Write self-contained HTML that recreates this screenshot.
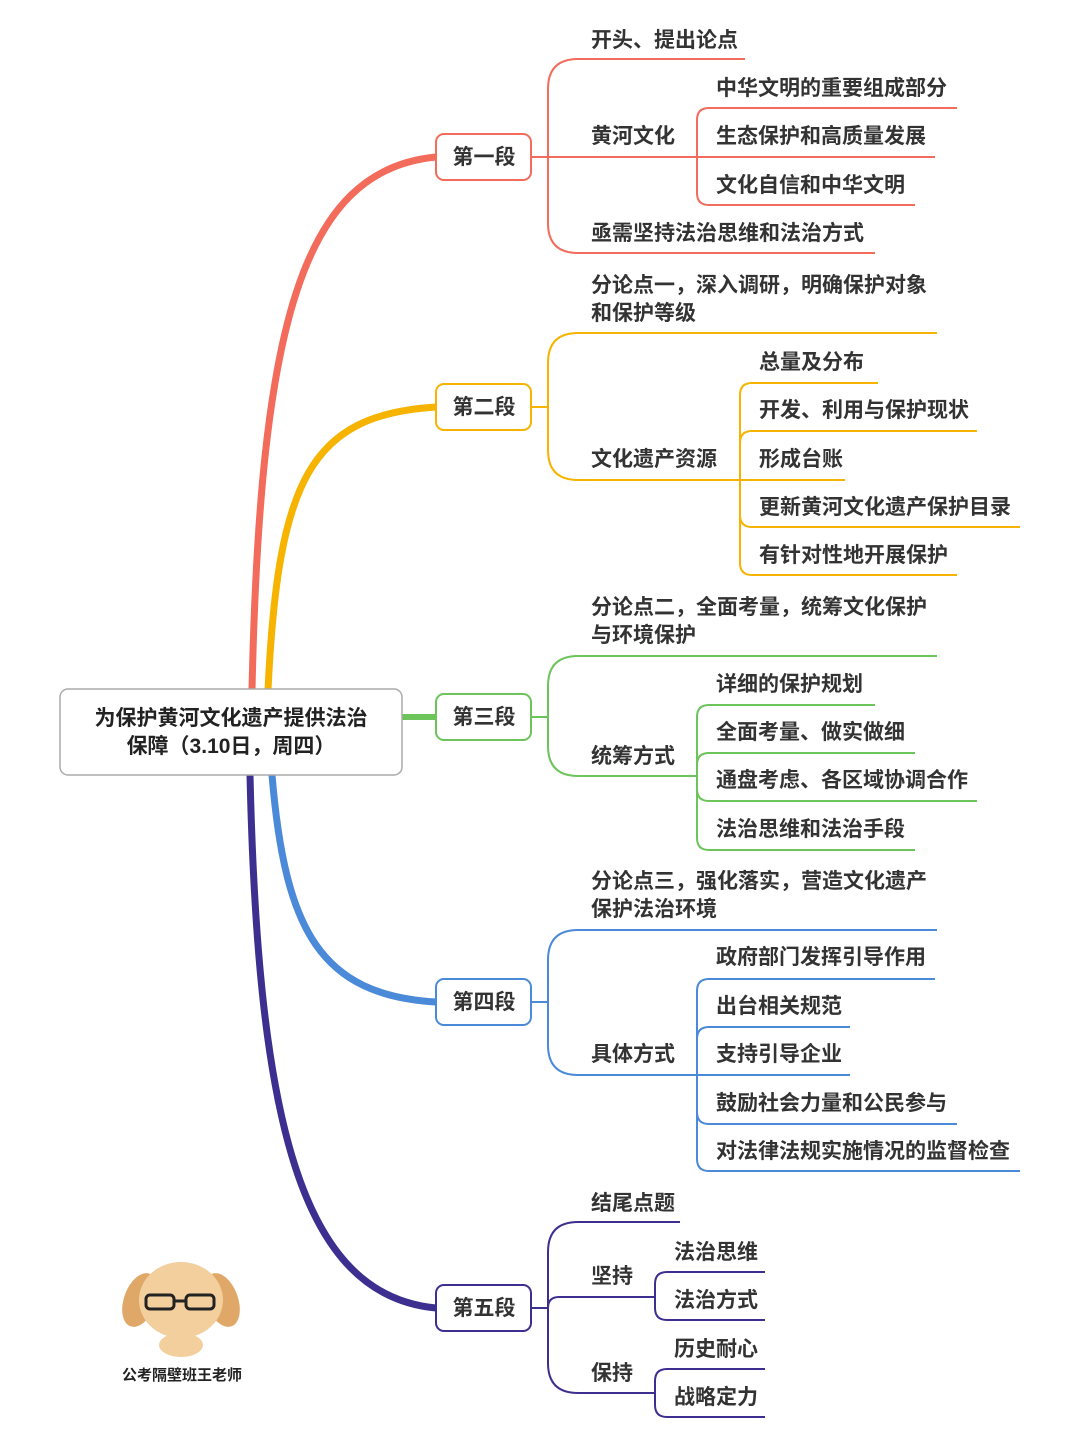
<!DOCTYPE html>
<html><head><meta charset="utf-8"><style>
html,body{margin:0;padding:0;background:#fff}
svg{display:block}
text{font-family:"Liberation Sans","Noto Sans CJK SC",sans-serif;font-weight:bold;font-size:21px;fill:#333}
</style></head><body>
<svg width="1080" height="1439" viewBox="0 0 1080 1439" xmlns="http://www.w3.org/2000/svg">
<g fill="none" stroke-linecap="round">
<path d="M252 690 C260 330 300 170 436 157" stroke="#f26b5b" stroke-width="7"/>
<path d="M268 690 C278 480 310 415 436 407" stroke="#f6b400" stroke-width="7"/>
<path d="M402 717 C418 717 420 717 436 717" stroke="#6cc45a" stroke-width="6"/>
<path d="M272 775 C285 930 320 995 436 1002" stroke="#4a8ad8" stroke-width="7"/>
<path d="M250 775 C258 1120 300 1295 436 1308" stroke="#3d2f8f" stroke-width="7"/>
</g>
<g fill="none" stroke-width="2">
<g stroke="#f26b5b">
<path d="M548 157 V89 Q548 59 578 59 H745"/>
<path d="M531 157 H697"/>
<path d="M548 157 V223 Q548 253 578 253 H875"/>
<path d="M697 157 V120 Q697 108 709 108 H957"/>
<path d="M697 157 H935"/>
<path d="M697 157 V193 Q697 205 709 205 H915"/>
</g>
<g stroke="#f6b400">
<path d="M548 407 V363 Q548 333 578 333 H937"/>
<path d="M548 407 V450 Q548 480 578 480 H740"/>
<path d="M531 407 H548"/>
<path d="M740 480 V395 Q740 383 752 383 H878"/>
<path d="M740 480 V443 Q740 431 752 431 H977"/>
<path d="M740 480 H845"/>
<path d="M740 480 V515 Q740 527 752 527 H1020"/>
<path d="M740 480 V563 Q740 575 752 575 H957"/>
</g>
<g stroke="#6cc45a">
<path d="M548 717 V686 Q548 656 578 656 H937"/>
<path d="M548 717 V746 Q548 776 578 776 H697"/>
<path d="M531 717 H548"/>
<path d="M697 776 V717 Q697 705 709 705 H875"/>
<path d="M697 776 V765 Q697 753 709 753 H915"/>
<path d="M697 776 V789 Q697 801 709 801 H977"/>
<path d="M697 776 V838 Q697 850 709 850 H915"/>
</g>
<g stroke="#4a8ad8">
<path d="M548 1002 V960 Q548 930 578 930 H937"/>
<path d="M548 1002 V1045 Q548 1075 578 1075 H697"/>
<path d="M531 1002 H548"/>
<path d="M697 1075 V991 Q697 979 709 979 H935"/>
<path d="M697 1075 V1039 Q697 1027 709 1027 H850"/>
<path d="M697 1075 H850"/>
<path d="M697 1075 V1112 Q697 1124 709 1124 H957"/>
<path d="M697 1075 V1159 Q697 1171 709 1171 H1020"/>
</g>
<g stroke="#3d2f8f">
<path d="M548 1308 V1252 Q548 1222 578 1222 H680"/>
<path d="M548 1308 Q548 1297 559 1297 H655"/>
<path d="M548 1308 V1363 Q548 1393 578 1393 H655"/>
<path d="M531 1308 H548"/>
<path d="M655 1297 V1284 Q655 1272 667 1272 H765"/>
<path d="M655 1297 V1308 Q655 1320 667 1320 H765"/>
<path d="M655 1393 V1381 Q655 1369 667 1369 H765"/>
<path d="M655 1393 V1405 Q655 1417 667 1417 H765"/>
</g>
</g>
<rect x="60" y="689" width="342" height="86" rx="8" fill="#fff" stroke="#aaa" stroke-width="1.5"/>
<text x="231" y="725" text-anchor="middle" style="fill:#222">为保护黄河文化遗产提供法治</text>
<text x="231" y="753" text-anchor="middle" style="fill:#222">保障（3.10日，周四）</text>
<g fill="#fff" stroke-width="2">
<rect x="436" y="134" width="95" height="46" rx="8" stroke="#f26b5b"/>
<rect x="436" y="384" width="95" height="46" rx="8" stroke="#f6b400"/>
<rect x="436" y="694" width="95" height="46" rx="8" stroke="#6cc45a"/>
<rect x="436" y="979" width="95" height="46" rx="8" stroke="#4a8ad8"/>
<rect x="436" y="1285" width="95" height="46" rx="8" stroke="#3d2f8f"/>
</g>
<g text-anchor="middle">
<text x="484" y="164">第一段</text>
<text x="484" y="414">第二段</text>
<text x="484" y="724">第三段</text>
<text x="484" y="1009">第四段</text>
<text x="484" y="1315">第五段</text>
</g>
<text x="591" y="47">开头、提出论点</text>
<text x="591" y="143">黄河文化</text>
<text x="716" y="95">中华文明的重要组成部分</text>
<text x="716" y="143">生态保护和高质量发展</text>
<text x="716" y="192">文化自信和中华文明</text>
<text x="591" y="240">亟需坚持法治思维和法治方式</text>

<text x="591" y="292">分论点一，深入调研，明确保护对象</text>
<text x="591" y="320">和保护等级</text>
<text x="591" y="466">文化遗产资源</text>
<text x="759" y="369">总量及分布</text>
<text x="759" y="417">开发、利用与保护现状</text>
<text x="759" y="466">形成台账</text>
<text x="759" y="514">更新黄河文化遗产保护目录</text>
<text x="759" y="562">有针对性地开展保护</text>

<text x="591" y="614">分论点二，全面考量，统筹文化保护</text>
<text x="591" y="642">与环境保护</text>
<text x="591" y="763">统筹方式</text>
<text x="716" y="691">详细的保护规划</text>
<text x="716" y="739">全面考量、做实做细</text>
<text x="716" y="787">通盘考虑、各区域协调合作</text>
<text x="716" y="836">法治思维和法治手段</text>

<text x="591" y="888">分论点三，强化落实，营造文化遗产</text>
<text x="591" y="916">保护法治环境</text>
<text x="591" y="1061">具体方式</text>
<text x="716" y="964">政府部门发挥引导作用</text>
<text x="716" y="1013">出台相关规范</text>
<text x="716" y="1061">支持引导企业</text>
<text x="716" y="1110">鼓励社会力量和公民参与</text>
<text x="716" y="1158">对法律法规实施情况的监督检查</text>

<text x="591" y="1210">结尾点题</text>
<text x="591" y="1283">坚持</text>
<text x="674" y="1259">法治思维</text>
<text x="674" y="1307">法治方式</text>
<text x="591" y="1380">保持</text>
<text x="674" y="1356">历史耐心</text>
<text x="674" y="1404">战略定力</text>

<g>
<ellipse cx="140" cy="1300" rx="16" ry="28" fill="#e0a868" transform="rotate(20 140 1300)"/>
<ellipse cx="222" cy="1300" rx="16" ry="28" fill="#e0a868" transform="rotate(-20 222 1300)"/>
<ellipse cx="181" cy="1300" rx="42" ry="38" fill="#f2cf9c"/>
<rect x="146" y="1295" width="28" height="14" rx="4" fill="none" stroke="#222" stroke-width="3"/>
<rect x="186" y="1295" width="28" height="14" rx="4" fill="none" stroke="#222" stroke-width="3"/>
<path d="M174 1301 H186" stroke="#222" stroke-width="3"/>
<ellipse cx="181" cy="1345" rx="22" ry="12" fill="#f2cf9c"/>
</g>
<text x="182" y="1380" text-anchor="middle" style="font-size:15px;fill:#222">公考隔壁班王老师</text>
</svg>
</body></html>
